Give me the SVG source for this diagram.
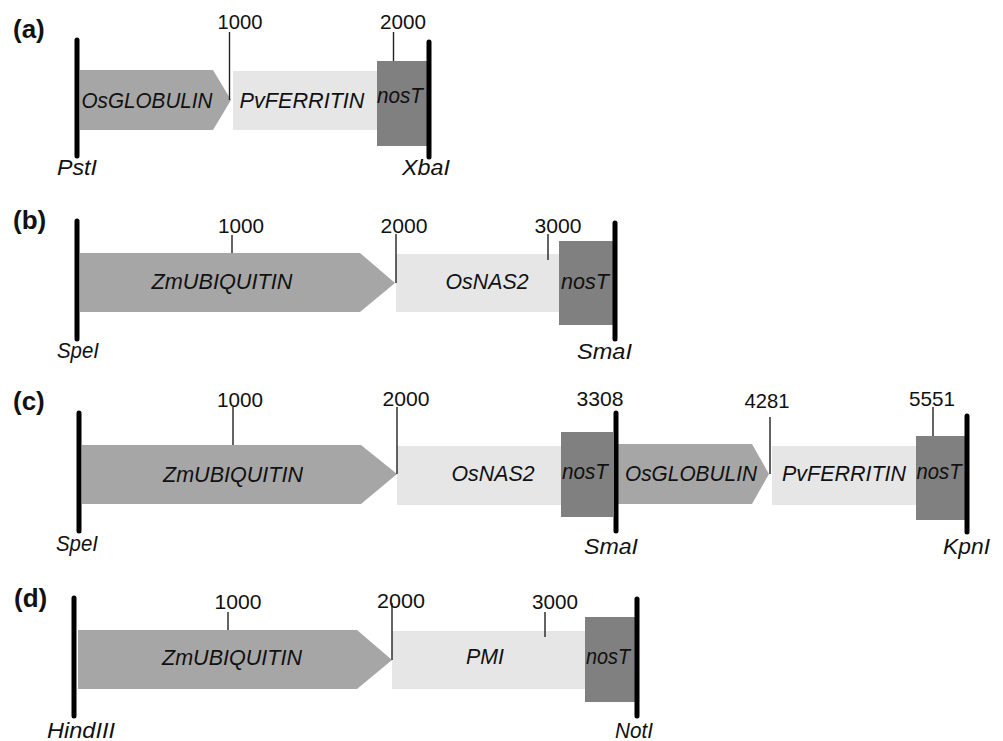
<svg xmlns="http://www.w3.org/2000/svg" width="1003" height="741" viewBox="0 0 1003 741">
<style>
.bg{fill:#ffffff}
.prom{fill:#a6a6a6}
.gene{fill:#e6e6e6}
.term{fill:#808080}
.site{stroke:#000;stroke-width:5;stroke-linecap:round;fill:none}
.tick{stroke:#222;stroke-width:1.4;fill:none}
.num{font-family:"Liberation Sans",Arial,sans-serif;font-size:21px;fill:#111;text-anchor:middle}
.lbl{font-family:"Liberation Sans",Arial,sans-serif;font-size:22.5px;font-style:italic;fill:#111;text-anchor:middle}
.re{font-family:"Liberation Sans",Arial,sans-serif;font-size:22.5px;font-style:italic;fill:#111}
.pan{font-family:"Liberation Sans",Arial,sans-serif;font-size:26px;font-weight:bold;fill:#111}
</style>
<rect class="bg" x="0" y="0" width="1003" height="741"/>

<!-- Panel (a) -->
<g id="panel-a">
  <text class="pan" x="13" y="38">(a)</text>
  <g id="a-OsGLOBULIN"><polygon class="prom" points="80,70 213,70 231,100 213,130 80,130"/><text class="lbl" x="147" y="108" textLength="131" lengthAdjust="spacingAndGlyphs">OsGLOBULIN</text></g>
  <g id="a-PvFERRITIN"><rect class="gene" x="233" y="71" width="144" height="59"/><text class="lbl" x="302" y="108" textLength="125" lengthAdjust="spacingAndGlyphs">PvFERRITIN</text></g>
  <g id="a-nosT"><rect class="term" x="377" y="61" width="50" height="85"/><text class="lbl" x="400" y="103" textLength="46" lengthAdjust="spacingAndGlyphs">nosT</text></g>
  <g id="a-PstI"><line class="site" x1="77" y1="40" x2="77" y2="156"/><text class="re" x="57" y="175" textLength="40" lengthAdjust="spacingAndGlyphs">PstI</text></g>
  <g id="a-XbaI"><line class="site" x1="429" y1="42" x2="429" y2="157"/><text class="re" x="402" y="175" textLength="48" lengthAdjust="spacingAndGlyphs">XbaI</text></g>
  <g id="a-ticks">
    <line class="tick" x1="229.5" y1="32" x2="229.5" y2="100"/><text class="num" x="240" y="29" textLength="45" lengthAdjust="spacingAndGlyphs">1000</text>
    <line class="tick" x1="393.5" y1="32" x2="393.5" y2="61"/><text class="num" x="403" y="29" textLength="46" lengthAdjust="spacingAndGlyphs">2000</text>
  </g>
</g>

<!-- Panel (b) -->
<g id="panel-b">
  <text class="pan" x="13" y="229">(b)</text>
  <g id="b-ZmUBIQUITIN"><polygon class="prom" points="80,253 360,253 395,283 360,312 80,312"/><text class="lbl" x="222" y="289" textLength="141" lengthAdjust="spacingAndGlyphs">ZmUBIQUITIN</text></g>
  <g id="b-OsNAS2"><rect class="gene" x="396" y="254" width="163" height="58"/><text class="lbl" x="487" y="289" textLength="83" lengthAdjust="spacingAndGlyphs">OsNAS2</text></g>
  <g id="b-nosT"><rect class="term" x="559" y="241" width="54" height="84"/><text class="lbl" x="585" y="289" textLength="48" lengthAdjust="spacingAndGlyphs">nosT</text></g>
  <g id="b-SpeI"><line class="site" x1="77" y1="221" x2="77" y2="339"/><text class="re" x="57" y="358" textLength="42" lengthAdjust="spacingAndGlyphs">SpeI</text></g>
  <g id="b-SmaI"><line class="site" x1="615" y1="223" x2="615" y2="339"/><text class="re" x="577" y="359" textLength="55" lengthAdjust="spacingAndGlyphs">SmaI</text></g>
  <g id="b-ticks">
    <line class="tick" x1="232" y1="235" x2="232" y2="253"/><text class="num" x="241" y="233" textLength="46" lengthAdjust="spacingAndGlyphs">1000</text>
    <line class="tick" x1="396" y1="234" x2="396" y2="283"/><text class="num" x="404" y="233" textLength="47" lengthAdjust="spacingAndGlyphs">2000</text>
    <line class="tick" x1="548" y1="234" x2="548" y2="260"/><text class="num" x="558" y="233" textLength="47" lengthAdjust="spacingAndGlyphs">3000</text>
  </g>
</g>

<!-- Panel (c) -->
<g id="panel-c">
  <text class="pan" x="13" y="410">(c)</text>
  <g id="c-ZmUBIQUITIN"><polygon class="prom" points="82,445 361,445 397,474 361,504 82,504"/><text class="lbl" x="233" y="482" textLength="140" lengthAdjust="spacingAndGlyphs">ZmUBIQUITIN</text></g>
  <g id="c-OsNAS2"><rect class="gene" x="397" y="446" width="164" height="59"/><text class="lbl" x="493" y="481" textLength="83" lengthAdjust="spacingAndGlyphs">OsNAS2</text></g>
  <g id="c-nosT1"><rect class="term" x="561" y="432" width="52" height="85"/><text class="lbl" x="585" y="479" textLength="46" lengthAdjust="spacingAndGlyphs">nosT</text></g>
  <g id="c-OsGLOBULIN"><polygon class="prom" points="618,444 752,444 769,474 752,504 618,504"/><text class="lbl" x="691" y="481" textLength="132" lengthAdjust="spacingAndGlyphs">OsGLOBULIN</text></g>
  <g id="c-PvFERRITIN"><rect class="gene" x="772" y="446" width="144" height="59"/><text class="lbl" x="844" y="481" textLength="124" lengthAdjust="spacingAndGlyphs">PvFERRITIN</text></g>
  <g id="c-nosT2"><rect class="term" x="916" y="436" width="49" height="84"/><text class="lbl" x="939" y="479" textLength="45" lengthAdjust="spacingAndGlyphs">nosT</text></g>
  <g id="c-SpeI"><line class="site" x1="79" y1="413" x2="79" y2="531"/><text class="re" x="56" y="551" textLength="42" lengthAdjust="spacingAndGlyphs">SpeI</text></g>
  <g id="c-SmaI"><line class="site" x1="616" y1="413" x2="616" y2="531"/><text class="re" x="584" y="554" textLength="54" lengthAdjust="spacingAndGlyphs">SmaI</text></g>
  <g id="c-KpnI"><line class="site" x1="967" y1="416" x2="967" y2="532"/><text class="re" x="943" y="554" textLength="47" lengthAdjust="spacingAndGlyphs">KpnI</text></g>
  <g id="c-ticks">
    <line class="tick" x1="233" y1="407" x2="233" y2="445"/><text class="num" x="240" y="407" textLength="46" lengthAdjust="spacingAndGlyphs">1000</text>
    <line class="tick" x1="397" y1="407" x2="397" y2="474"/><text class="num" x="406" y="406" textLength="47" lengthAdjust="spacingAndGlyphs">2000</text>
    <text class="num" x="600" y="406" textLength="47" lengthAdjust="spacingAndGlyphs">3308</text>
    <line class="tick" x1="770" y1="417" x2="770" y2="474"/><text class="num" x="767" y="408" textLength="45" lengthAdjust="spacingAndGlyphs">4281</text>
    <line class="tick" x1="933" y1="407" x2="933" y2="436"/><text class="num" x="932" y="406" textLength="46" lengthAdjust="spacingAndGlyphs">5551</text>
  </g>
</g>

<!-- Panel (d) -->
<g id="panel-d">
  <text class="pan" x="14" y="607">(d)</text>
  <g id="d-ZmUBIQUITIN"><polygon class="prom" points="78,630 357,630 392,660 357,689 78,689"/><text class="lbl" x="232" y="665" textLength="140" lengthAdjust="spacingAndGlyphs">ZmUBIQUITIN</text></g>
  <g id="d-PMI"><rect class="gene" x="392" y="631" width="193" height="58"/><text class="lbl" x="485" y="664" textLength="38" lengthAdjust="spacingAndGlyphs">PMI</text></g>
  <g id="d-nosT"><rect class="term" x="585" y="617" width="50" height="85"/><text class="lbl" x="608" y="664" textLength="44" lengthAdjust="spacingAndGlyphs">nosT</text></g>
  <g id="d-HindIII"><line class="site" x1="74" y1="598" x2="74" y2="716"/><text class="re" x="47" y="738" textLength="68" lengthAdjust="spacingAndGlyphs">HindIII</text></g>
  <g id="d-NotI"><line class="site" x1="637" y1="599" x2="637" y2="716"/><text class="re" x="615" y="738" textLength="38" lengthAdjust="spacingAndGlyphs">NotI</text></g>
  <g id="d-ticks">
    <line class="tick" x1="228" y1="612" x2="228" y2="630"/><text class="num" x="238" y="609" textLength="47" lengthAdjust="spacingAndGlyphs">1000</text>
    <line class="tick" x1="392" y1="603" x2="392" y2="660"/><text class="num" x="401" y="608" textLength="48" lengthAdjust="spacingAndGlyphs">2000</text>
    <line class="tick" x1="545" y1="612" x2="545" y2="637"/><text class="num" x="555" y="609" textLength="46" lengthAdjust="spacingAndGlyphs">3000</text>
  </g>
</g>
</svg>
